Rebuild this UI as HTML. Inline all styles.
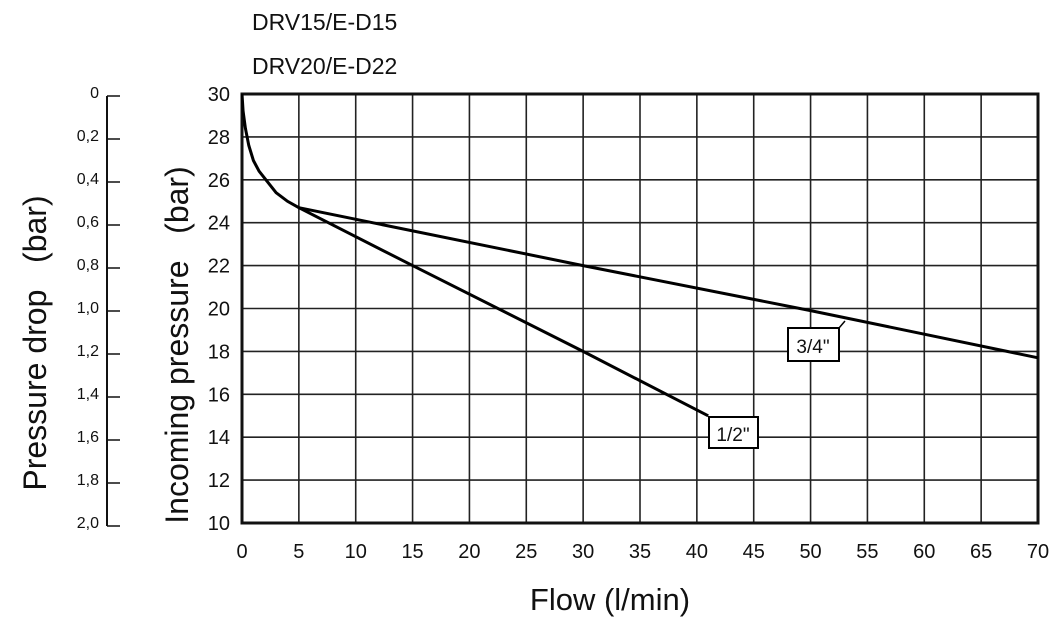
<!DOCTYPE html>
<html><head><meta charset="utf-8"><style>
body{margin:0;background:#fff;}
svg text{font-family:"Liberation Sans",Arial,sans-serif;fill:#111;}
</style></head><body>
<svg id="chart" width="1053" height="625" xmlns="http://www.w3.org/2000/svg">
<text x="252" y="30" font-size="23">DRV15/E-D15</text>
<text x="252" y="74" font-size="23">DRV20/E-D22</text>
<g id="grid"></g>
<g id="xticks"></g>
<g id="yticks"></g>
<g id="dticks"></g>
<g id="series"></g>
<text x="610" y="610" font-size="31" text-anchor="middle">Flow (l/min)</text>
<text transform="translate(188,345) rotate(-90)" font-size="32" text-anchor="middle">Incoming pressure&#160;&#160;&#160;(bar)</text>
<text transform="translate(46,343) rotate(-90)" font-size="32" text-anchor="middle">Pressure drop&#160;&#160;&#160;(bar)</text>
</svg>
<script>
const xTicks=[0,5,10,15,20,25,30,35,40,45,50,55,60,65,70];
const yTicks=[10,12,14,16,18,20,22,24,26,28,30];
const dropTicks=["0","0,2","0,4","0,6","0,8","1,0","1,2","1,4","1,6","1,8","2,0"];
const curveFlow=[0,0.1,0.3,0.6,1,1.5,2.1,3,4,5];
const curvePress=[30,29.2,28.4,27.6,26.9,26.4,26,25.4,25,24.7];
const flow34=[5,30,50,60,70];
const press34=[24.7,22,19.9,18.8,17.7];
const flow12=[5,15,30,41];
const press12=[24.7,22,18,15];
const NS="http://www.w3.org/2000/svg";
const X0=242,X1=1038,Y0=523,Y1=94;
const sx=v=>X0+(v-0)/(70-0)*(X1-X0);
const sy=v=>Y0-(v-10)/(30-10)*(Y0-Y1);
function mk(tag,attrs,parent,txt){const e=document.createElementNS(NS,tag);for(const k in attrs)e.setAttribute(k,attrs[k]);if(txt!==undefined)e.textContent=txt;parent.appendChild(e);return e;}
const grid=document.getElementById('grid'),xt=document.getElementById('xticks'),yt=document.getElementById('yticks'),dt=document.getElementById('dticks'),ser=document.getElementById('series');
xTicks.forEach(v=>{const l=mk('line',{x1:sx(v),x2:sx(v),y1:Y1,y2:Y0,stroke:'#222','stroke-width':1.6},grid);


const t=mk('text',{x:sx(v),y:558,'font-size':20,'text-anchor':'middle'},xt,String(v));

});
yTicks.forEach(v=>{const l=mk('line',{x1:X0,x2:X1,y1:sy(v),y2:sy(v),stroke:'#222','stroke-width':1.6},grid);


const t=mk('text',{x:230,y:sy(v)+7,'font-size':20,'text-anchor':'end'},yt,String(v));

});
const fr=mk('rect',{x:X0,y:Y1,width:X1-X0,height:Y0-Y1,fill:'none',stroke:'#111','stroke-width':3},grid);


const dy0=96,dy1=526;
const ax=mk('line',{x1:107,x2:107,y1:dy0,y2:dy1,stroke:'#111','stroke-width':2},dt);


dropTicks.forEach((s,i)=>{const y=dy0+i*(dy1-dy0)/(dropTicks.length-1);
const l=mk('line',{x1:107,x2:120,y1:y,y2:y,stroke:'#111','stroke-width':1.5},dt);


const t=mk('text',{x:99,y:y+2,'font-size':16,'text-anchor':'end'},dt,s);

});
function path(fx,fy){return fx.map((v,i)=>(i?'L':'M')+sx(v).toFixed(1)+','+sy(fy[i]).toFixed(1)).join(' ');}
const c=mk('path',{d:path(curveFlow,curvePress),fill:'none',stroke:'#000','stroke-width':3},ser);


const a=mk('path',{d:path(flow34,press34),fill:'none',stroke:'#000','stroke-width':3},ser);


const b=mk('path',{d:path(flow12,press12),fill:'none',stroke:'#000','stroke-width':3},ser);


const ld=mk('line',{x1:839,y1:328,x2:845,y2:321,stroke:'#000','stroke-width':1.5},ser);


const b1=mk('rect',{x:788,y:328,width:51,height:33,fill:'#fff',stroke:'#000','stroke-width':2},ser);


const t1=mk('text',{x:813,y:353,'font-size':19,'text-anchor':'middle'},ser,'3/4"');


const b2=mk('rect',{x:709,y:417,width:49,height:31,fill:'#fff',stroke:'#000','stroke-width':2},ser);


const t2=mk('text',{x:733,y:441,'font-size':19,'text-anchor':'middle'},ser,'1/2"');


</script>
</body></html>
